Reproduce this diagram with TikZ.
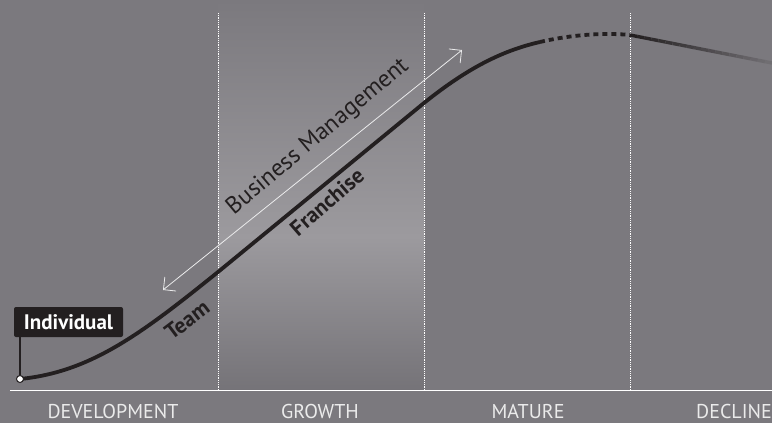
\documentclass[tikz,border=0pt]{standalone}
\usepackage{fontspec}
\setmainfont{PT Sans}
\usetikzlibrary{arrows.meta,calc}
\definecolor{bg}{RGB}{123,121,126}
\definecolor{bandlight}{RGB}{156,154,158}
\definecolor{banddark}{RGB}{117,115,120}
\definecolor{curve}{RGB}{35,31,32}
\definecolor{caption}{RGB}{235,235,235}

\begin{document}
\begin{tikzpicture}[x=1pt,y=-1pt,
	every node/.style={inner sep=0pt},
	stage/.style={text=caption,font=\fontsize{20}{20}\selectfont},
	divider/.style={white,densely dotted,line width=0.8pt},
	lifecurve/.style={curve,line width=3.8pt},
	slope/.style={text=curve,font=\bfseries\fontsize{22}{22}\selectfont},
	span/.style={white!85!bg,line width=0.8pt,
	{Straight Barb[length=9pt,width=18pt]}-{Straight Barb[length=9pt,width=18pt]}}]
\useasboundingbox (0,0) rectangle (772,423);
\fill[bg] (0,0) rectangle (772,423);
% growth band
\shade[top color=bg,bottom color=bandlight] (218,0) rectangle (424,237);
\shade[top color=bandlight,bottom color=banddark] (218,237) rectangle (424,390);
\foreach \x in {218,424,630}
	\draw[divider] (\x,13) -- (\x,390);
\draw[white,line width=1pt] (10,390) -- (772,390);

% the curve
\coordinate (start) at (20,379);
\coordinate (g0) at (218,272);
\coordinate (m0) at (424,103);
\coordinate (peak) at (540,42);
\coordinate (top) at (630,35);
\coordinate (end) at (772,63);
\draw[lifecurve] (start) .. controls (90,372) and (140,335) .. (g0)
	-- (m0) .. controls (470,66) and (505,50) .. (peak);
\draw[lifecurve,dash pattern=on 5pt off 4pt] (peak) .. controls (565,36) and (600,32) .. (top);
\foreach \i [evaluate=\i as \mix using 100-4.6*\i] in {0,...,19}
	\draw[curve!\mix!bg,line width=3.4pt] ($(top)!{\i/20}!(end)$) -- ($(top)!{(\i+1)/20}!(end)$);

\node[circle,fill=white,draw=curve,line width=1pt,minimum size=7pt] (dot) at (start) {};
\node[fill=curve,text=white,rounded corners=2pt,minimum width=109pt,minimum height=30pt,
	font=\bfseries\fontsize{21}{21}\selectfont] (ind) at (68.5,322) {Individual};
\draw[curve,line width=1.8pt] (ind.south -| dot) -- (dot);

\coordinate (bmL) at (163,290);
\coordinate (bmR) at (462,50);
\draw[span] (bmL) -- (bmR);
\node[rotate=40,text=curve,font=\fontsize{24}{24}\selectfont] (bm) at (318,137) {Business Management};
\node[slope,rotate=37] (team) at (187,320) {Team};
\node[slope,rotate=41] (franchise) at (327,202) {Franchise};

\node[stage] (dev) at (113,411.5) {DEVELOPMENT};
\node[stage] (growth) at (320,411.5) {GROWTH};
\node[stage] (mature) at (528,411.5) {MATURE};
\node[stage] (decline) at (734,411.5) {DECLINE};
\end{tikzpicture}
\end{document}
